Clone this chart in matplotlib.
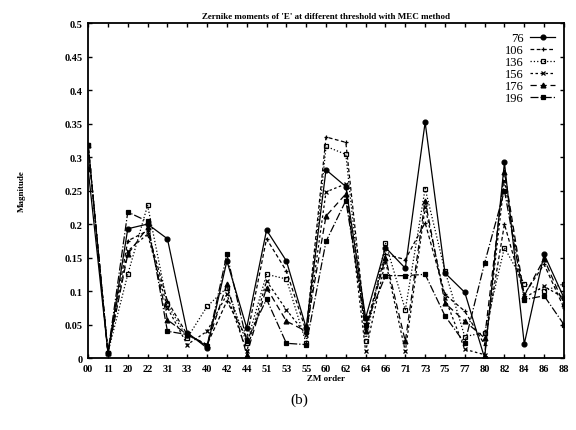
import matplotlib
matplotlib.use("Agg")
import matplotlib.pyplot as plt

plt.rcParams["font.family"] = ["Liberation Serif", "DejaVu Serif"]

orders = ["00", "11", "20", "22", "31", "33", "40", "42", "44", "51", "53", "55",
          "60", "62", "64", "66", "71", "73", "75", "77", "80", "82", "84", "86", "88"]

t76 = [0.282, 0.008, 0.193, 0.200, 0.178, 0.038, 0.015, 0.145, 0.045, 0.191, 0.145, 0.045,
       0.281, 0.256, 0.060, 0.165, 0.134, 0.352, 0.127, 0.098, 0.000, 0.292, 0.021, 0.155, 0.090]
t106 = [0.318, 0.008, 0.175, 0.190, 0.085, 0.035, 0.020, 0.085, 0.030, 0.178, 0.130, 0.040,
        0.330, 0.322, 0.045, 0.155, 0.147, 0.202, 0.095, 0.070, 0.020, 0.200, 0.095, 0.140, 0.075]
t136 = [0.318, 0.008, 0.125, 0.228, 0.080, 0.030, 0.077, 0.105, 0.022, 0.125, 0.118, 0.022,
        0.316, 0.304, 0.025, 0.172, 0.072, 0.253, 0.130, 0.032, 0.038, 0.165, 0.111, 0.100, 0.111]
t156 = [0.318, 0.008, 0.160, 0.185, 0.075, 0.020, 0.040, 0.095, 0.010, 0.115, 0.072, 0.035,
        0.248, 0.260, 0.010, 0.145, 0.010, 0.225, 0.090, 0.013, 0.005, 0.265, 0.090, 0.107, 0.090]
t176 = [0.318, 0.008, 0.155, 0.195, 0.057, 0.035, 0.020, 0.110, 0.005, 0.105, 0.055, 0.040,
        0.212, 0.245, 0.040, 0.150, 0.025, 0.235, 0.082, 0.055, 0.030, 0.278, 0.093, 0.148, 0.080]
t196 = [0.318, 0.008, 0.218, 0.204, 0.040, 0.035, 0.018, 0.155, 0.025, 0.088, 0.022, 0.020,
        0.174, 0.235, 0.050, 0.123, 0.123, 0.125, 0.063, 0.022, 0.142, 0.250, 0.087, 0.093, 0.050]

series = [
    ("76", t76, "-", "o", "k"),
    ("106", t106, (0, (3, 2)), "+", "k"),
    ("136", t136, ":", "s", "none"),
    ("156", t156, (0, (2, 2)), "x", "k"),
    ("176", t176, (0, (5, 3)), "^", "k"),
    ("196", t196, "-.", "s", "k"),
]

fig = plt.figure(figsize=(5.76, 4.31), dpi=100)
ax = fig.add_axes([0.153, 0.167, 0.826, 0.777])

x = range(len(orders))
for name, vals, ls, mk, fc in series:
    ax.plot(x, vals, color="black", linestyle=ls, linewidth=0.9, marker=mk,
            markersize=3.5, markerfacecolor=fc, markeredgecolor="black",
            markeredgewidth=0.9, label=name)

ax.set_xlim(0, len(orders) - 1)
ax.set_ylim(0, 0.5)
ax.set_xticks(list(x))
ax.set_xticklabels(orders, fontsize=7.5, fontweight="bold")
yt = [i * 0.05 for i in range(11)]
ax.set_yticks(yt)
ax.set_yticklabels(["0", "0.05", "0.1", "0.15", "0.2", "0.25", "0.3", "0.35", "0.4", "0.45", "0.5"],
                   fontsize=7.5, fontweight="bold")
ax.tick_params(direction="in", top=True, right=True, length=3, width=1, pad=4)
for s in ax.spines.values():
    s.set_linewidth(1.3)

ax.set_title("Zernike moments of 'E' at different threshold with MEC method",
             fontsize=6.5, fontweight="bold", pad=4)
ax.set_xlabel("ZM order", fontsize=6.5, fontweight="bold", labelpad=1)
ax.set_ylabel("Magnitude", fontsize=6.5, fontweight="bold", labelpad=28)

leg = ax.legend(loc="upper right", frameon=False, markerfirst=False, fontsize=9,
                handlelength=2.0, handletextpad=0.5, labelspacing=0.0,
                borderaxespad=0.3)

fig.text(0.52, 0.072, "(b)", ha="center", va="center", fontsize=11)

plt.savefig("out.png", dpi=100)
plt.close()
